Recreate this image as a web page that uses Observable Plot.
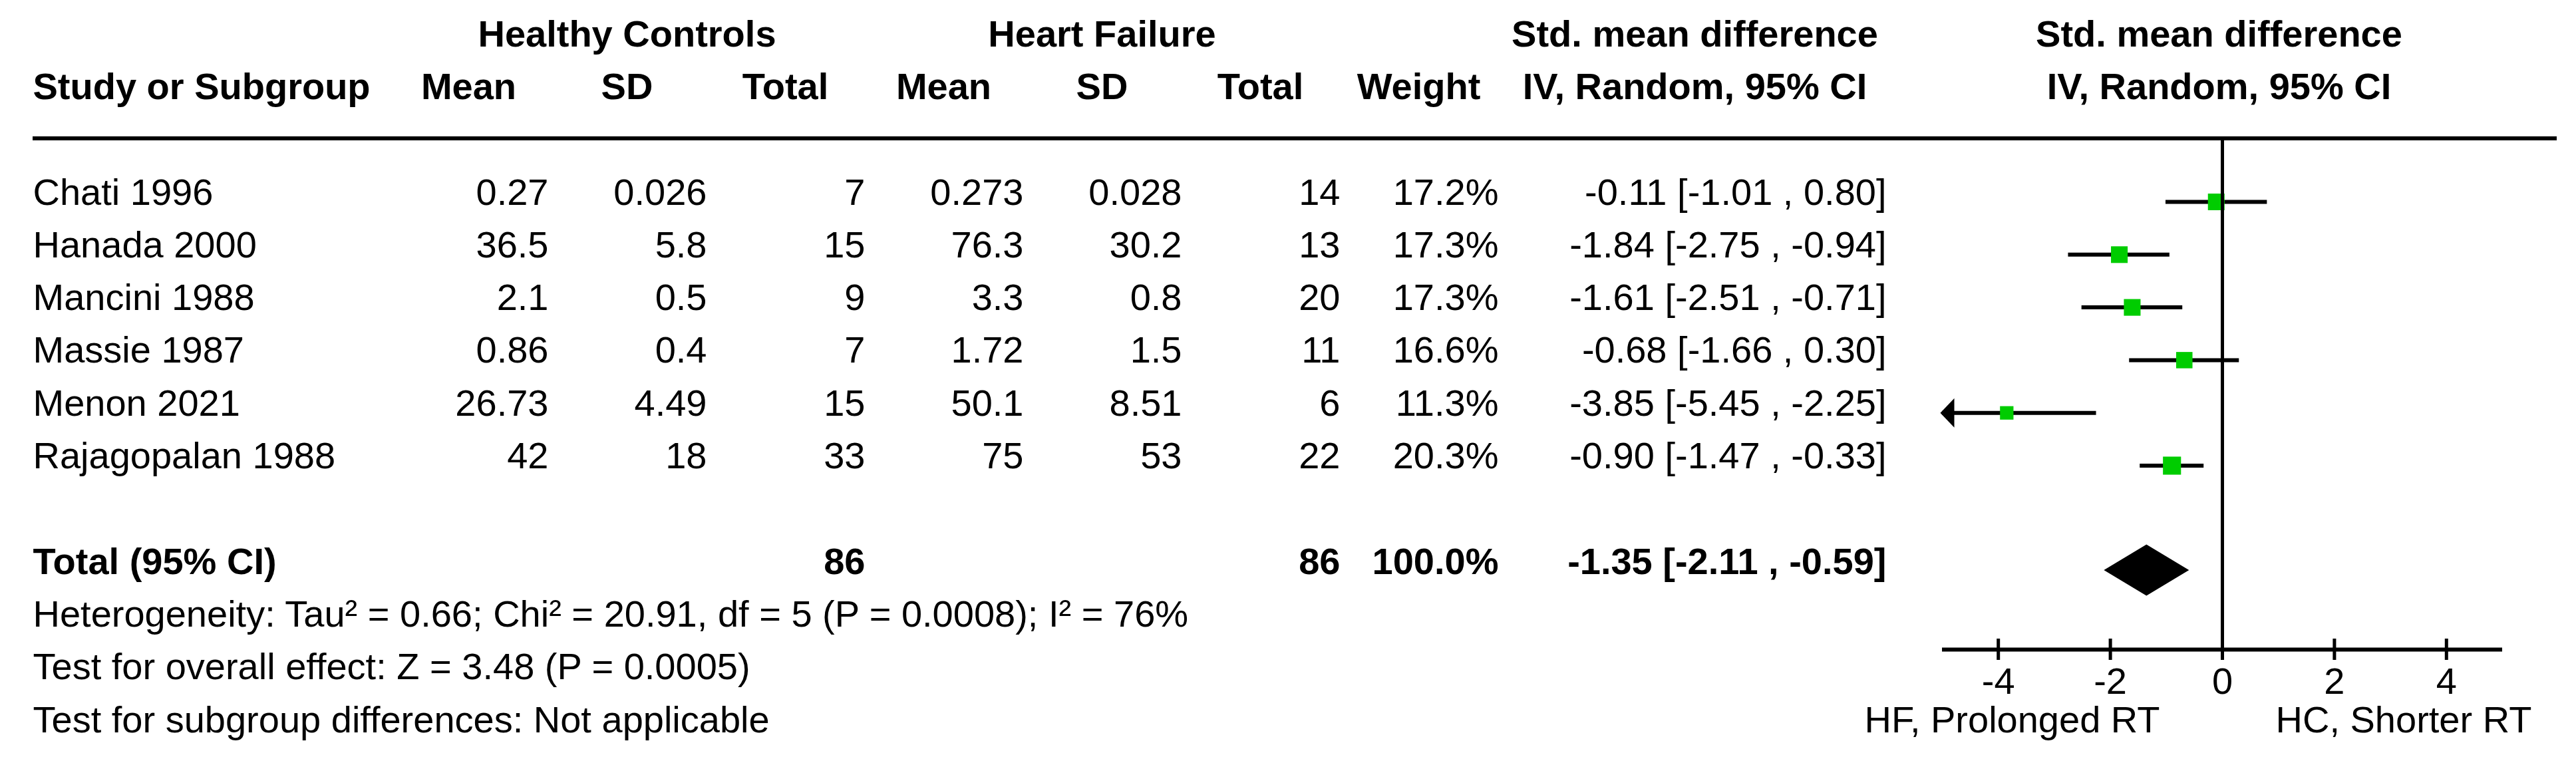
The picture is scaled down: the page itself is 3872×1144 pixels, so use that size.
<!DOCTYPE html>
<html>
<head>
<meta charset="utf-8">
<script src="https://cdn.jsdelivr.net/npm/d3@7"></script>
<script src="https://cdn.jsdelivr.net/npm/@observablehq/plot@0.6"></script>
<style>
  html, body { margin: 0; padding: 0; background: #fff; }
  #chart { position: relative; width: 3872px; height: 1144px; overflow: hidden; background: #fff; }
  #chart svg { position: absolute; left: 0; top: 0; }
</style>
</head>
<body>
<div id="chart"></div>
<script>
// ---------------- DATA ----------------
const studies   = ["Chati 1996", "Hanada 2000", "Mancini 1988", "Massie 1987", "Menon 2021", "Rajagopalan 1988"];
const hcMean    = [0.27, 36.5, 2.1, 0.86, 26.73, 42];
const hcSD      = [0.026, 5.8, 0.5, 0.4, 4.49, 18];
const hcTotal   = [7, 15, 9, 7, 15, 33];
const hfMean    = [0.273, 76.3, 3.3, 1.72, 50.1, 75];
const hfSD      = [0.028, 30.2, 0.8, 1.5, 8.51, 53];
const hfTotal   = [14, 13, 20, 11, 6, 22];
const weight    = [17.2, 17.3, 17.3, 16.6, 11.3, 20.3];
const smd       = [-0.11, -1.84, -1.61, -0.68, -3.85, -0.90];
const lower     = [-1.01, -2.75, -2.51, -1.66, -5.45, -1.47];
const upper     = [0.80, -0.94, -0.71, 0.30, -2.25, -0.33];

const totalHC = 86, totalHF = 86, totalWeight = 100.0;
const totalSMD = -1.35, totalLower = -2.11, totalUpper = -0.59;

const colKeys    = ["hcMean", "hcSD", "hcTotal", "hfMean", "hfSD", "hfTotal", "weight"];
const colHeaders = ["Mean", "SD", "Total", "Mean", "SD", "Total", "Weight"];
const groupHeaders = [{col: "hcSD", text: "Healthy Controls"}, {col: "hfSD", text: "Heart Failure"}];
const ciHeader   = ["Std. mean difference", "IV, Random, 95% CI"];
const footLines  = [
  "Heterogeneity: Tau\u00B2 = 0.66; Chi\u00B2 = 20.91, df = 5 (P = 0.0008); I\u00B2 = 76%",
  "Test for overall effect: Z = 3.48 (P = 0.0005)",
  "Test for subgroup differences: Not applicable"
];
const xTicks     = [-4, -2, 0, 2, 4];
const xLabels    = ["HF, Prolonged RT", "HC, Shorter RT"];

// ---------------- LAYOUT ----------------
const W = 3872, H = 1144;
const FONT = "'Liberation Sans', Arial, Helvetica, sans-serif";
const FS = 56;
const PITCH = 79.3;          // px per table row
const FIRST_BASE = 307;      // baseline of first study row (px)
const px2row = p => 1 + (p - FIRST_BASE) / PITCH;
const yDomain = [px2row(0), px2row(H)];
const HEADER1 = -2, HEADER2 = -1, TOTAL_ROW = 8, FOOT_ROW = 9;
const RULE_ROW = px2row(207.5);
const AXIS_PX = 976;
const AXIS_ROW = px2row(AXIS_PX);
const TICK_HALF = 16 / PITCH;
const DIAMOND_HALF = 38.5 / PITCH;
const X_MIN = -5, X_MAX = 5;
const CI_HEAD_DX = 415, CI_TEXT_DX = 703, NUM_DX = 120;

const fmtCI = (e, l, u) => `${e.toFixed(2)} [${l.toFixed(2)} , ${u.toFixed(2)}]`;

// table cells
const cells = [];
studies.forEach((s, i) => {
  const vals = [hcMean[i], hcSD[i], hcTotal[i], hfMean[i], hfSD[i], hfTotal[i], weight[i].toFixed(1) + "%"];
  vals.forEach((v, j) => cells.push({row: i + 1, col: colKeys[j], text: String(v)}));
});
const totalCells = [
  {row: TOTAL_ROW, col: "hcTotal", text: String(totalHC)},
  {row: TOTAL_ROW, col: "hfTotal", text: String(totalHF)},
  {row: TOTAL_ROW, col: "weight", text: totalWeight.toFixed(1) + "%"}
];
const studyRows = studies.map((s, i) => ({row: i + 1, name: s, ci: fmtCI(smd[i], lower[i], upper[i])}));

const base = {fontSize: FS, fontFamily: FONT, lineAnchor: "bottom", fill: "black"};

const table = Plot.plot({
  width: W, height: H,
  marginLeft: 49, marginRight: 29, marginTop: 0, marginBottom: 0,
  style: {fontFamily: FONT, fontSize: FS + "px", background: "transparent", overflow: "visible"},
  x: {type: "band", domain: colKeys, range: [584, 2252], padding: 0, axis: null},
  y: {domain: yDomain, range: [0, H], axis: null},
  marks: [
    // group headers
    Plot.text(groupHeaders, {...base, x: "col", y: HEADER1, text: "text", fontWeight: "bold", textAnchor: "middle"}),
    Plot.text([ciHeader[0]], {...base, x: () => "weight", y: HEADER1, text: d => d, fontWeight: "bold", textAnchor: "middle", dx: CI_HEAD_DX}),
    // column headers
    Plot.text(["Study or Subgroup"], {...base, frameAnchor: "left", y: HEADER2, text: d => d, fontWeight: "bold", textAnchor: "start"}),
    Plot.text(colKeys, {...base, x: d => d, y: HEADER2, text: (d, i) => colHeaders[i], fontWeight: "bold", textAnchor: "middle"}),
    Plot.text([ciHeader[1]], {...base, x: () => "weight", y: HEADER2, text: d => d, fontWeight: "bold", textAnchor: "middle", dx: CI_HEAD_DX}),
    // header rule
    Plot.ruleY([RULE_ROW], {strokeWidth: 6, stroke: "black"}),
    // study rows
    Plot.text(studyRows, {...base, frameAnchor: "left", y: "row", text: "name", textAnchor: "start"}),
    Plot.text(cells, {...base, x: "col", y: "row", text: "text", textAnchor: "end", dx: NUM_DX}),
    Plot.text(studyRows, {...base, x: () => "weight", y: "row", text: "ci", textAnchor: "end", dx: CI_TEXT_DX}),
    // total row
    Plot.text(["Total (95% CI)"], {...base, frameAnchor: "left", y: TOTAL_ROW, text: d => d, fontWeight: "bold", textAnchor: "start"}),
    Plot.text(totalCells, {...base, x: "col", y: "row", text: "text", fontWeight: "bold", textAnchor: "end", dx: NUM_DX}),
    Plot.text([fmtCI(totalSMD, totalLower, totalUpper)], {...base, x: () => "weight", y: TOTAL_ROW, text: d => d, fontWeight: "bold", textAnchor: "end", dx: CI_TEXT_DX}),
    // footer
    Plot.text(footLines, {...base, frameAnchor: "left", y: (d, i) => FOOT_ROW + i, text: d => d, textAnchor: "start"})
  ]
});

// forest plot
const forestRows = studies.map((s, i) => ({row: i + 1, est: smd[i], lo: lower[i], hi: upper[i], w: weight[i]}));
const diamond = [
  {y: TOTAL_ROW - DIAMOND_HALF, x1: totalSMD, x2: totalSMD},
  {y: TOTAL_ROW, x1: totalLower, x2: totalUpper},
  {y: TOTAL_ROW + DIAMOND_HALF, x1: totalSMD, x2: totalSMD}
];
const arrowLeft = {
  draw(ctx, size) {
    const s = Math.sqrt(size / Math.PI) / 22;
    ctx.moveTo(-3 * s, 0);
    ctx.lineTo(18 * s, -22 * s);
    ctx.lineTo(18 * s, 22 * s);
    ctx.closePath();
  }
};

const forest = Plot.plot({
  width: W, height: H,
  marginLeft: 0, marginRight: 0, marginTop: 0, marginBottom: H - AXIS_PX,
  style: {fontFamily: FONT, fontSize: FS + "px", background: "transparent", overflow: "visible"},
  x: {domain: [X_MIN, X_MAX], range: [2919, 3761]},
  y: {domain: yDomain, range: [0, H], axis: null},
  r: {type: "sqrt", domain: [0, 100], range: [0, 34]},
  marks: [
    Plot.ruleY(forestRows, {y: "row", x1: d => Math.max(d.lo, X_MIN), x2: d => Math.min(d.hi, X_MAX), strokeWidth: 6, stroke: "black", dy: -4}),
    Plot.dot(forestRows.filter(d => d.lo < X_MIN), {x: X_MIN, y: "row", r: 22, symbol: arrowLeft, fill: "black", stroke: "none", dy: -4}),
    Plot.dot(forestRows, {x: "est", y: "row", r: "w", symbol: "square", fill: "#00CC00", stroke: "none", dy: -4}),
    Plot.areaX(diamond, {y: "y", x1: "x1", x2: "x2", fill: "black", dy: -5}),
    Plot.ruleX([0], {y1: RULE_ROW, y2: AXIS_ROW, strokeWidth: 5, stroke: "black"}),
    Plot.ruleY([AXIS_ROW], {x1: X_MIN, x2: X_MAX, strokeWidth: 6, stroke: "black"}),
    Plot.ruleX(xTicks, {y1: AXIS_ROW - TICK_HALF, y2: AXIS_ROW + TICK_HALF, strokeWidth: 5, stroke: "black"}),
    Plot.axisX({ticks: xTicks, tickSize: 0, tickPadding: 27, tickFormat: d => String(d), fontSize: FS, fontFamily: FONT, label: null, fill: "black"}),
    Plot.text([ciHeader[0]], {...base, x: 0, y: HEADER1, text: d => d, fontWeight: "bold", textAnchor: "middle", dx: -5}),
    Plot.text([ciHeader[1]], {...base, x: 0, y: HEADER2, text: d => d, fontWeight: "bold", textAnchor: "middle", dx: -5}),
    Plot.text([xLabels[0]], {...base, x: 0, y: FOOT_ROW + 2, text: d => d, textAnchor: "end", dx: -94}),
    Plot.text([xLabels[1]], {...base, x: 0, y: FOOT_ROW + 2, text: d => d, textAnchor: "start", dx: 80})
  ]
});

const chart = document.getElementById("chart");
chart.appendChild(table);
chart.appendChild(forest);
</script>
</body>
</html>
